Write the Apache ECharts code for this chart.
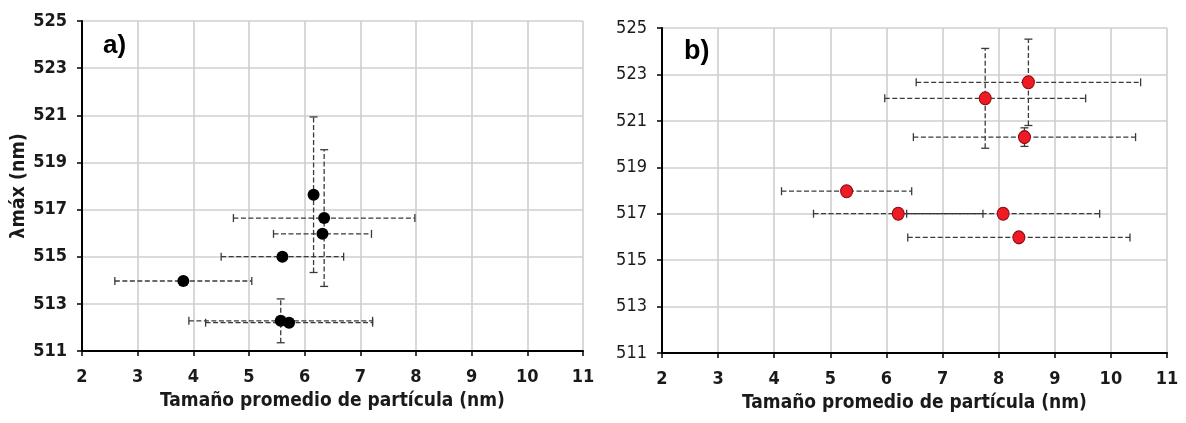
<!DOCTYPE html>
<html><head><meta charset="utf-8">
<script src="https://cdn.jsdelivr.net/npm/echarts@6/dist/echarts.min.js"></script>
<style>html,body{margin:0;padding:0;background:#fff}#c{width:1186px;height:423px}</style>
</head><body><div id="c"></div>
<script>
// Panel a)
const xA   = [6.16, 6.35, 6.32, 5.60, 3.82, 5.57, 5.72];
const yA   = [517.63, 516.64, 515.97, 515.0, 513.97, 512.28, 512.2];
const xErrA = [0, 1.63, 0.88, 1.10, 1.23, 1.65, 1.50];
const yErrA = [3.3, 2.9, 0, 0, 0, 0.93, 0];
// Panel b)
const xB   = [8.53, 7.76, 8.46, 5.29, 6.21, 8.08, 8.36];
const yB   = [522.66, 521.97, 520.3, 517.97, 517.0, 517.0, 515.98];
const xErrB = [2.0, 1.79, 1.98, 1.16, 1.51, 1.72, 1.98];
const yErrB = [1.86, 2.15, 0.4, 0, 0, 0, 0];
// Axes
const xTicks = [2,3,4,5,6,7,8,9,10,11];
const yTicks = [511,513,515,517,519,521,523,525];
const xTitle = 'Tamaño promedio de partícula (nm)';
const yTitle = 'λmáx (nm)';

const FONT = "'Liberation Sans Narrow','Arial Narrow','DejaVu Sans Condensed',sans-serif";

function errRender(params, api) {
  const x = api.value(0), y = api.value(1), ex = api.value(2), ey = api.value(3);
  const style = {stroke:'#3a3a3a', lineWidth:1.3, lineDash:[5,2.5]};
  const cap = {stroke:'#3a3a3a', lineWidth:1.3};
  const ch = [];
  const c = 4;
  if (ex > 0) {
    const p1 = api.coord([x-ex, y]), p2 = api.coord([x+ex, y]);
    ch.push({type:'line', shape:{x1:p1[0],y1:p1[1],x2:p2[0],y2:p2[1]}, style});
    ch.push({type:'line', shape:{x1:p1[0],y1:p1[1]-c,x2:p1[0],y2:p1[1]+c}, style:cap});
    ch.push({type:'line', shape:{x1:p2[0],y1:p2[1]-c,x2:p2[0],y2:p2[1]+c}, style:cap});
  }
  if (ey > 0) {
    const p1 = api.coord([x, y-ey]), p2 = api.coord([x, y+ey]);
    ch.push({type:'line', shape:{x1:p1[0],y1:p1[1],x2:p2[0],y2:p2[1]}, style});
    ch.push({type:'line', shape:{x1:p1[0]-c,y1:p1[1],x2:p1[0]+c,y2:p1[1]}, style:cap});
    ch.push({type:'line', shape:{x1:p2[0]-c,y1:p2[1],x2:p2[0]+c,y2:p2[1]}, style:cap});
  }
  return {type:'group', children:ch};
}

function xAxisCfg(gi) {
  return {
    type:'value', gridIndex:gi, min:2, max:11, interval:1,
    name:xTitle, nameLocation:'middle', nameGap:41,
    nameTextStyle:{fontFamily:FONT, fontWeight:'bold', fontSize:19, color:'#1a1a1a'},
    axisLine:{show:true, onZero:false, lineStyle:{color:'#000', width:2}},
    axisTick:{show:true, length:5, lineStyle:{color:'#000', width:1.5}, customValues:xTicks},
    axisLabel:{fontFamily:FONT, fontWeight:'bold', fontSize:18, color:'#1a1a1a', margin:17, customValues:xTicks},
    splitLine:{show:true, lineStyle:{color:'#cfcfcf', width:1.6}}
  };
}
function yAxisCfg(gi, bold, withName) {
  const o = {
    type:'value', gridIndex:gi, min:511, max:525,
    axisLine:{show:true, onZero:false, lineStyle:{color:'#000', width:2}},
    axisTick:{show:true, length:5, lineStyle:{color:'#000', width:1.5}, customValues:yTicks},
    axisLabel:{fontFamily:FONT, fontWeight:bold?'bold':'normal', fontSize:18, color:'#1a1a1a', margin:15, customValues:yTicks},
    splitLine:{show:true, lineStyle:{color:'#cfcfcf', width:1.6}}
  };
  if (withName) {
    o.name = yTitle; o.nameLocation = 'middle'; o.nameGap = 52;
    o.nameTextStyle = {fontFamily:FONT, fontWeight:'bold', fontSize:19.5, color:'#1a1a1a'};
  }
  return o;
}

const chart = echarts.init(document.getElementById('c'), null, {renderer:'canvas'});
chart.setOption({
  animation:false,
  backgroundColor:'#fff',
  grid:[
    {left:82, right:603, top:21, bottom:72},
    {left:662, right:19, top:28, bottom:70}
  ],
  xAxis:[xAxisCfg(0), xAxisCfg(1)],
  yAxis:[yAxisCfg(0, true, true), yAxisCfg(1, false, false)],
  graphic:[
    {type:'text', left:103, top:33, style:{text:'a)', font:"bold 26px 'Liberation Sans', Arial, sans-serif", fill:'#000'}},
    {type:'text', left:684, top:38, style:{text:'b)', font:"bold 27px 'Liberation Sans', Arial, sans-serif", fill:'#000'}}
  ],
  series:[
    {type:'custom', xAxisIndex:0, yAxisIndex:0, renderItem:errRender, z:2,
      data:xA.map((v,i)=>[v, yA[i], xErrA[i], yErrA[i]]), encode:{x:0,y:1}},
    {type:'custom', xAxisIndex:1, yAxisIndex:1, renderItem:errRender, z:2,
      data:xB.map((v,i)=>[v, yB[i], xErrB[i], yErrB[i]]), encode:{x:0,y:1}},
    {type:'scatter', xAxisIndex:0, yAxisIndex:0, z:5, symbolSize:12,
      itemStyle:{color:'#000', opacity:1},
      data:xA.map((v,i)=>[v, yA[i]])},
    {type:'scatter', xAxisIndex:1, yAxisIndex:1, z:5, symbolSize:[12,13],
      itemStyle:{color:'#ee1b24', borderColor:'#8a0a10', borderWidth:1, opacity:1},
      data:xB.map((v,i)=>[v, yB[i]])}
  ]
});
</script></body></html>
